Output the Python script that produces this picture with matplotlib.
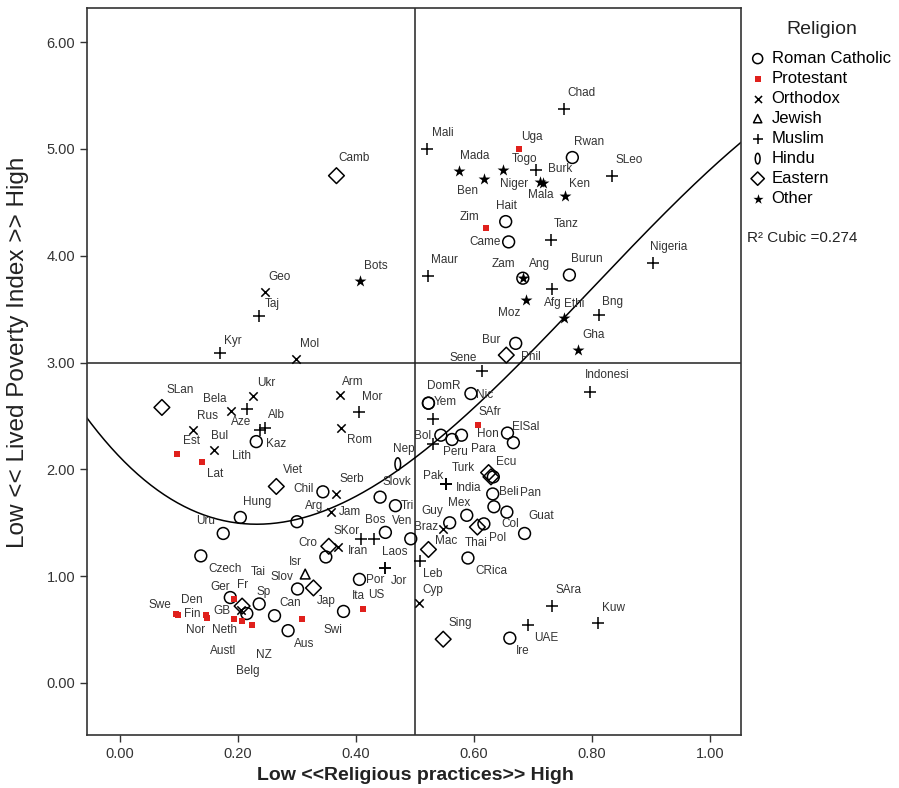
import numpy as np
import matplotlib.pyplot as plt
from matplotlib.path import Path
from matplotlib.transforms import Affine2D

plt.rcParams['font.family'] = ['Liberation Sans', 'DejaVu Sans']

# countries: religious practices index (x), lived poverty index (y), religion code
names = ["SLan", "Bela", "Ukr", "Aze", "Alb", "Kaz", "Lith", "Rus", "Est", "Bul",
         "Lat", "Arm", "Mor", "Rom", "Nep", "Viet", "Chil", "Serb", "Slovk", "Tri",
         "Hung", "Arg", "Jam", "Uru", "SKor", "Iran", "Bos", "Ven", "Cro", "",
         "", "Jor", "Laos", "Isr", "Slov", "Tai", "Por", "US", "Ita", "Jap",
         "Swi", "Can", "Aus", "Sp", "Czech", "Swe", "Den", "Fin", "Nor", "Ger",
         "Fr", "", "", "Belg", "GB", "Neth", "Austl", "NZ",
         "Camb", "Bots", "Geo", "Taj", "Kyr", "Mol",
         "Chad", "Mali", "Uga", "Rwan", "SLeo", "Mada", "Togo", "Burk", "Ben", "Niger",
         "Mala", "Ken", "Hait", "Zim", "Came", "Tanz", "Maur", "Zam", "Ang", "Burun",
         "Nigeria", "Afg", "Moz", "Ethi", "Bng", "Gha", "Bur", "Phil", "Sene", "Indonesi",
         "Nic", "DomR", "Yem", "", "SAfr", "Hon", "ElSal", "Bol", "", "Peru",
         "Para", "Ecu", "", "", "Pak", "Turk", "India", "Beli", "Col", "Pan",
         "Guat", "Mex", "Guy", "Braz", "Thai", "Pol", "Mac", "Leb", "CRica", "Cyp",
         "SAra", "Kuw", "UAE", "Ire", "Sing"]

practices = [0.071, 0.188, 0.225, 0.215, 0.245, 0.237, 0.231, 0.123, 0.097, 0.160,
             0.139, 0.373, 0.406, 0.375, 0.471, 0.265, 0.344, 0.367, 0.441, 0.467,
             0.204, 0.300, 0.358, 0.175, 0.408, 0.431, 0.450, 0.493, 0.354, 0.349,
             0.369, 0.449, 0.449, 0.314, 0.301, 0.328, 0.406, 0.412, 0.412, 0.379,
             0.308, 0.262, 0.285, 0.236, 0.137, 0.095, 0.098, 0.145, 0.147, 0.193,
             0.187, 0.207, 0.205, 0.215, 0.193, 0.207, 0.223, 0.223,
             0.367, 0.407, 0.245, 0.236, 0.170, 0.298,
             0.753, 0.520, 0.677, 0.767, 0.835, 0.575, 0.650, 0.705, 0.617, 0.717,
             0.713, 0.754, 0.654, 0.620, 0.659, 0.730, 0.523, 0.683, 0.683, 0.762,
             0.903, 0.733, 0.689, 0.753, 0.812, 0.776, 0.671, 0.655, 0.613, 0.797,
             0.595, 0.523, 0.523, 0.531, 0.607, 0.657, 0.667, 0.544, 0.531, 0.563,
             0.579, 0.625, 0.629, 0.633, 0.553, 0.553, 0.553, 0.632, 0.634, 0.656,
             0.686, 0.588, 0.559, 0.548, 0.606, 0.617, 0.523, 0.508, 0.590, 0.507,
             0.733, 0.810, 0.692, 0.661, 0.548]

poverty = [2.58, 2.55, 2.69, 2.57, 2.39, 2.37, 2.26, 2.37, 2.14, 2.18,
           2.07, 2.70, 2.54, 2.39, 2.05, 1.84, 1.79, 1.77, 1.74, 1.66,
           1.55, 1.51, 1.60, 1.40, 1.35, 1.35, 1.41, 1.35, 1.28, 1.18,
           1.27, 1.08, 1.08, 1.02, 0.88, 0.89, 0.97, 0.69, 0.69, 0.67,
           0.60, 0.63, 0.49, 0.74, 1.19, 0.65, 0.64, 0.64, 0.61, 0.79,
           0.80, 0.72, 0.68, 0.65, 0.60, 0.58, 0.54, 0.54,
           4.75, 3.76, 3.66, 3.44, 3.09, 3.03,
           5.37, 5.00, 5.00, 4.92, 4.75, 4.79, 4.80, 4.80, 4.72, 4.68,
           4.69, 4.56, 4.32, 4.26, 4.13, 4.15, 3.81, 3.79, 3.79, 3.82,
           3.93, 3.69, 3.59, 3.42, 3.45, 3.12, 3.18, 3.07, 2.92, 2.72,
           2.71, 2.62, 2.62, 2.47, 2.42, 2.34, 2.25, 2.32, 2.24, 2.28,
           2.32, 1.97, 1.93, 1.93, 1.86, 1.86, 1.86, 1.77, 1.65, 1.60,
           1.40, 1.57, 1.50, 1.44, 1.46, 1.49, 1.25, 1.14, 1.17, 0.75,
           0.72, 0.56, 0.54, 0.42, 0.41]

religion = ["Ea", "Or", "Or", "Mu", "Mu", "Mu", "RC", "Or", "Pr", "Or",
            "Pr", "Or", "Mu", "Or", "Hi", "Ea", "RC", "Or", "RC", "RC",
            "RC", "RC", "Or", "RC", "Mu", "Mu", "RC", "RC", "Ea", "RC",
            "Or", "Mu", "Mu", "Je", "RC", "Ea", "RC", "Pr", "Pr", "RC",
            "Pr", "RC", "RC", "RC", "RC", "Pr", "Pr", "Pr", "Pr", "Pr",
            "RC", "Ea", "Or", "RC", "Pr", "Pr", "Pr", "Pr",
            "Ea", "Ot", "Or", "Mu", "Mu", "Or",
            "Mu", "Mu", "Pr", "RC", "Mu", "Ot", "Ot", "Mu", "Ot", "Ot",
            "Ot", "Ot", "RC", "Pr", "RC", "Mu", "Mu", "RC", "Ot", "RC",
            "Mu", "Mu", "Ot", "Ot", "Mu", "Ot", "RC", "Ea", "Mu", "Mu",
            "RC", "RC", "RC", "Mu", "Pr", "RC", "RC", "RC", "Mu", "RC",
            "RC", "Ea", "Ea", "RC", "Mu", "Mu", "Mu", "RC", "RC", "RC",
            "RC", "RC", "RC", "Or", "Ea", "RC", "Ea", "Mu", "RC", "Or",
            "Mu", "Mu", "Mu", "RC", "Ea"]

religion_names = {"RC": "Roman Catholic", "Pr": "Protestant", "Or": "Orthodox",
                  "Je": "Jewish", "Mu": "Muslim", "Hi": "Hindu", "Ea": "Eastern",
                  "Ot": "Other"}

# points
curve_x = [-0.056, 0.215, 0.358, 0.469, 0.619, 0.753, 0.912, 1.053]
curve_y = [2.48, 1.50, 1.60, 2.03, 2.65, 3.42, 4.34, 5.06]

# label placement, pixel offset of label centre from the marker
label_offset = {
    "SLan": (18, 17), "Bela": (-16, 12), "Ukr": (14, 13), "Aze": (-6, -13),
    "Alb": (12, 13), "Kaz": (16, -14), "Lith": (-15, -14), "Rus": (15, 14),
    "Est": (14, 13), "Bul": (5, 14), "Lat": (13, -12), "Arm": (13, 13),
    "Mor": (13, 15), "Rom": (18, -12), "Nep": (6, 15), "Viet": (17, 16),
    "Chil": (-19, 3), "Serb": (15, 15), "Slovk": (17, 15), "Tri": (12, 0),
    "Hung": (17, 15), "Arg": (17, 16), "Jam": (19, 0), "Uru": (-18, 12),
    "SKor": (-14, 8), "Iran": (-16, -12), "Bos": (-10, 12), "Ven": (-9, 18),
    "Cro": (-21, 3), "Jor": (14, -13), "Laos": (10, 16), "Isr": (-10, 12),
    "Slov": (-16, 12), "Tai": (-55, 16), "Por": (16, -1), "US": (13, 14),
    "Ita": (-5, 13), "Jap": (-17, 10), "Swi": (31, -11), "Can": (16, 13),
    "Aus": (16, -13), "Sp": (4, 12), "Czech": (24, -13), "Swe": (-16, 9),
    "Den": (14, 15), "Fin": (-13, 1), "Nor": (-11, -12), "Ger": (-14, 12),
    "Fr": (12, 13), "Belg": (1, -57), "GB": (-12, 8), "Neth": (-18, -9),
    "Austl": (-28, -26), "NZ": (12, -30),
    "Camb": (18, 18), "Bots": (16, 15), "Geo": (15, 15), "Taj": (13, 12),
    "Kyr": (13, 12), "Mol": (14, 15),
    "Chad": (17, 16), "Mali": (16, 16), "Uga": (13, 12), "Rwan": (17, 16),
    "SLeo": (17, 16), "Mada": (16, 15), "Togo": (21, 11), "Burk": (24, 1),
    "Ben": (-16, -12), "Niger": (-29, -1), "Mala": (0, -13), "Ken": (15, 12),
    "Hait": (1, 16), "Zim": (-16, 11), "Came": (-24, 0), "Tanz": (16, 16),
    "Maur": (16, 16), "Zam": (-19, 14), "Ang": (17, 14), "Burun": (17, 16),
    "Nigeria": (16, 16), "Afg": (0, -14), "Moz": (-17, -13), "Ethi": (10, 14),
    "Bng": (14, 13), "Gha": (16, 15), "Bur": (-25, 3), "Phil": (25, -2),
    "Sene": (-18, 13), "Indonesi": (17, 17), "Nic": (14, -1), "DomR": (15, 17),
    "Yem": (17, 1), "SAfr": (12, 13), "Hon": (-20, -1), "ElSal": (12, 16),
    "Bol": (-18, -1), "Peru": (3, -13), "Para": (22, -14), "Ecu": (18, 11),
    "Pak": (-13, 8), "Turk": (17, 16), "India": (22, -4), "Beli": (16, 2),
    "Col": (16, -17), "Pan": (24, 19), "Guat": (17, 17), "Mex": (-8, 12),
    "Guy": (-17, 12), "Braz": (-17, 2), "Thai": (-1, -16), "Pol": (14, -14),
    "Mac": (18, 8), "Leb": (13, -13), "CRica": (23, -13), "Cyp": (14, 13),
    "SAra": (16, 16), "Kuw": (16, 15), "UAE": (18, -13), "Ire": (13, -13),
    "Sing": (17, 16),
}

hindu_marker = Path.unit_circle().transformed(Affine2D().scale(0.45, 1.0))
styles = {
    "RC": dict(marker="o", s=8.5 ** 2, facecolors="none", edgecolors="black", linewidths=1.1),
    "Pr": dict(marker="s", s=4.5 ** 2, color="#e0201c", linewidths=0),
    "Or": dict(marker="x", s=6 ** 2, color="black", linewidths=1.1),
    "Je": dict(marker="^", s=7 ** 2, facecolors="none", edgecolors="black", linewidths=1.1),
    "Mu": dict(marker="+", s=8.5 ** 2, color="black", linewidths=1.1),
    "Hi": dict(marker=hindu_marker, s=9 ** 2, facecolors="none", edgecolors="black", linewidths=1.1),
    "Ea": dict(marker="D", s=8 ** 2, facecolors="none", edgecolors="black", linewidths=1.1),
    "Ot": dict(marker="*", s=9 ** 2, color="black", linewidths=0),
}

fig = plt.figure(figsize=(8.99, 7.88), dpi=100)
ax = fig.add_axes([87 / 899, 53 / 788, 654 / 899, 727 / 788])

px = np.array(practices)
pv = np.array(poverty)
rel = np.array(religion)

handles = []
for code in ["RC", "Pr", "Or", "Je", "Mu", "Hi", "Ea", "Ot"]:
    m = rel == code
    h = ax.scatter(px[m], pv[m], zorder=3, label=religion_names[code], **styles[code])
    handles.append(h)

for name, xv, yv in zip(names, practices, poverty):
    if not name:
        continue
    dx, dy = label_offset.get(name, (14, 14))
    ax.annotate(name, (xv, yv), xytext=(dx, dy), textcoords="offset pixels",
                ha="center", va="center", fontsize=8.5, color="#333333")

# cubic fit line
coef = np.polyfit(curve_x, curve_y, 3)
cx = np.linspace(-0.06, 1.06, 300)
ax.plot(cx, np.polyval(coef, cx), color="black", lw=1.1, zorder=2)

ax.axvline(0.5, color="#222222", lw=1.1, zorder=1)
ax.axhline(3.0, color="#222222", lw=1.1, zorder=1)

ax.set_xlim(-0.056, 1.053)
ax.set_ylim(-0.487, 6.32)
ax.set_xticks(np.arange(0, 1.01, 0.2))
ax.set_yticks(np.arange(0, 6.01, 1.0))
ax.xaxis.set_major_formatter(plt.FormatStrFormatter("%.2f"))
ax.yaxis.set_major_formatter(plt.FormatStrFormatter("%.2f"))
ax.tick_params(direction="out", length=5, width=1, labelsize=10.5, colors="#333333")
for sp in ax.spines.values():
    sp.set_linewidth(1.2)
    sp.set_color("#333333")

fig.text(18 / 899, 1 - 352 / 788, "Low << Lived Poverty Index >> High", rotation=90,
         ha="center", va="center", fontsize=17.5, color="#222222")
fig.text(415 / 899, 1 - 775 / 788, "Low <<Religious practices>> High",
         ha="center", va="center", fontsize=14, fontweight="bold", color="#222222")

fig.text(822 / 899, 1 - 30 / 788, "Religion", ha="center", va="center",
         fontsize=14, color="#222222")
fig.legend(handles=handles, loc="upper left", bbox_to_anchor=(751 / 899, 1 - 51 / 788),
           frameon=False, fontsize=12, markerscale=0.85,
           handlelength=0.8, handletextpad=0.44, labelspacing=0.3, borderpad=0,
           borderaxespad=0)

fig.text(747 / 899, 1 - 238 / 788, "R\u00b2 Cubic =0.274", ha="left", va="center",
         fontsize=11, color="#222222")

fig.savefig("out.png", dpi=100)
